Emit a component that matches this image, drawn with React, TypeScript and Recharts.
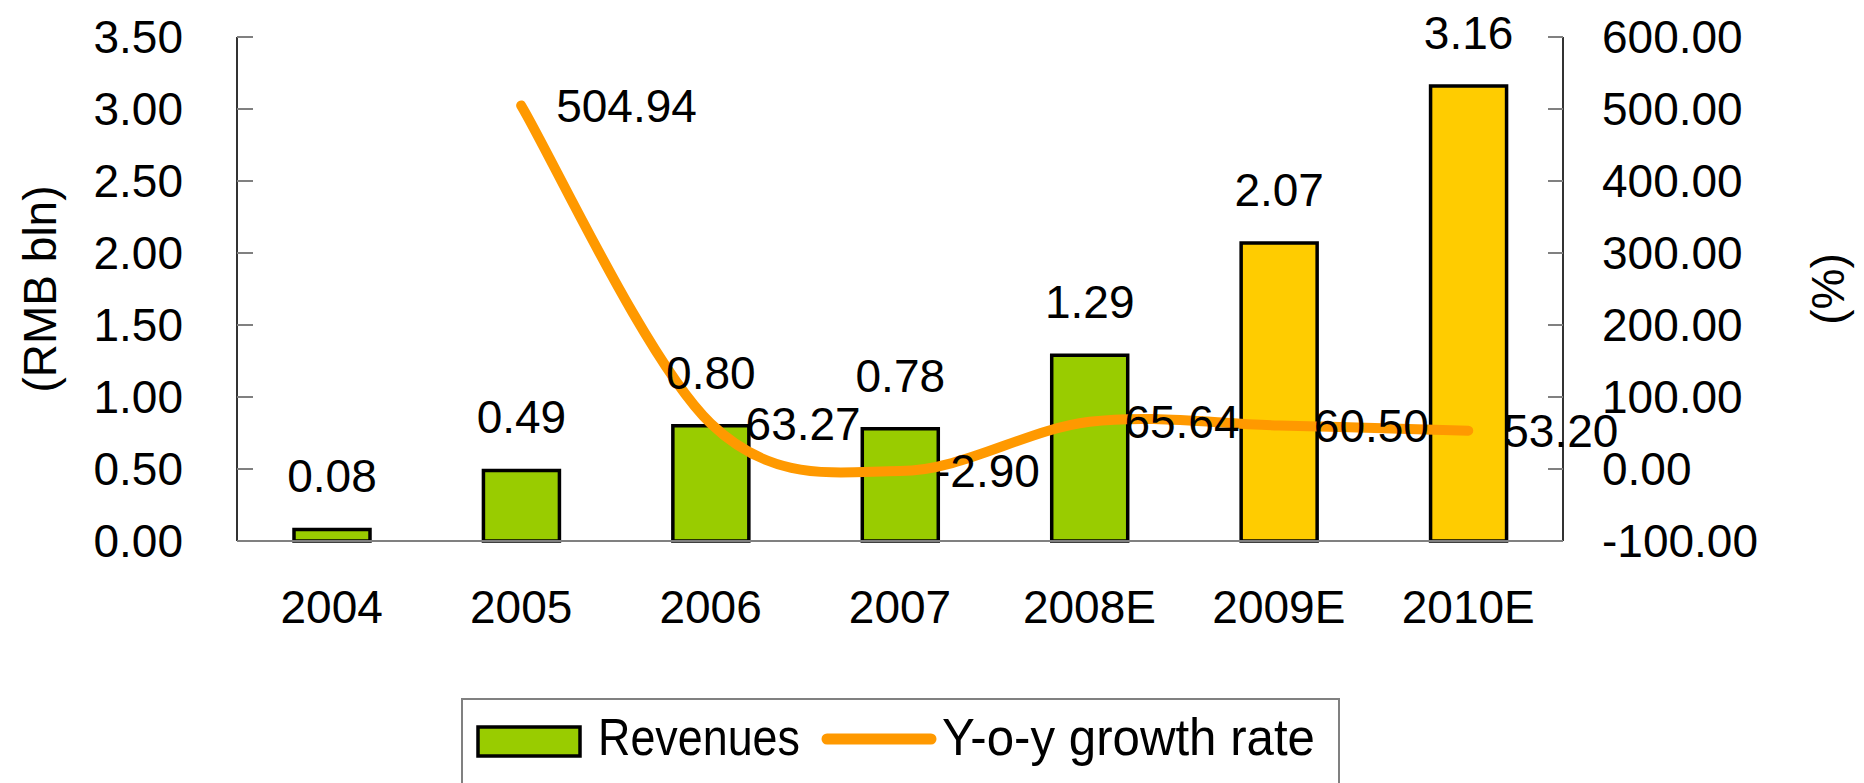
import React from "react";
import { ComposedChart, Bar, Line, XAxis, YAxis, Legend, LabelList, Cell } from "recharts";

const years = ["2004", "2005", "2006", "2007", "2008E", "2009E", "2010E"];
const revenues = [0.08, 0.49, 0.8, 0.78, 1.29, 2.07, 3.16];
const growth = [null, 504.94, 63.27, -2.9, 65.64, 60.5, 53.2];
const barColors = ["#99CC00", "#99CC00", "#99CC00", "#99CC00", "#99CC00", "#FFCC00", "#FFCC00"];
const leftTicks = [0, 0.5, 1, 1.5, 2, 2.5, 3, 3.5];
const rightTicks = [-100, 0, 100, 200, 300, 400, 500, 600];
const boundaryTicks = [1, 2, 3, 4, 5, 6];

const data = years.map((year, i) => ({ year, revenues: revenues[i], growth: growth[i], slot: i + 0.5 }));

const FONT = "'Liberation Sans', Arial, Helvetica, sans-serif";
const NARROW = "'Liberation Sans Narrow', 'Arial Narrow', 'Liberation Sans', Arial, sans-serif";

// Excel-like smoothed line (Catmull-Rom through the points)
const excelSmooth = (context: any) => {
  let pts: number[][] = [];
  return {
    areaStart() {},
    areaEnd() {},
    lineStart() {
      pts = [];
    },
    point(x: number, y: number) {
      pts.push([+x, +y]);
    },
    lineEnd() {
      const n = pts.length;
      if (!n) return;
      context.moveTo(pts[0][0], pts[0][1]);
      for (let i = 0; i < n - 1; i++) {
        const p0 = pts[i === 0 ? 0 : i - 1];
        const p1 = pts[i];
        const p2 = pts[i + 1];
        const p3 = pts[i + 2 < n ? i + 2 : n - 1];
        context.bezierCurveTo(
          p1[0] + (p2[0] - p0[0]) / 6,
          p1[1] + (p2[1] - p0[1]) / 6,
          p2[0] - (p3[0] - p1[0]) / 6,
          p2[1] - (p3[1] - p1[1]) / 6,
          p2[0],
          p2[1]
        );
      }
    },
  };
};

const fmt2 = (v: any) => (v === null || v === undefined ? "" : Number(v).toFixed(2));

const leftTitle = (props: any) => {
  const vb = props.viewBox;
  const cx = vb.x + 40;
  const cy = vb.y + vb.height / 2;
  return (
    <text x={cx} y={cy} transform={`rotate(-90 ${cx} ${cy})`} textAnchor="middle" dominantBaseline="central" fontSize={46} fill="#000">
      (RMB bln)
    </text>
  );
};

const rightTitle = (props: any) => {
  const vb = props.viewBox;
  const cx = vb.x + 265;
  const cy = vb.y + vb.height / 2;
  return (
    <text x={cx} y={cy} transform={`rotate(-90 ${cx} ${cy})`} textAnchor="middle" dominantBaseline="central" fontSize={46} fill="#000">
      (%)
    </text>
  );
};

const renderLegend = (props: any) => {
  const items = props.payload || [];
  const bar = items.find((p: any) => p.type === "rect") || items[0];
  const line = items.find((p: any) => p.type === "line") || items[1];
  return (
    <svg width={879} height={100} style={{ display: "block", fontFamily: NARROW }}>
      <rect x={1} y={1} width={877} height={140} fill="none" stroke="#808080" strokeWidth={2} />
      <rect x={17} y={29} width={102} height={29} fill="#99CC00" stroke="#000" strokeWidth={3.5} />
      <text x={137} y={57} fontSize={52} textLength={202} lengthAdjust="spacingAndGlyphs" fill="#000">
        {bar ? bar.value : ""}
      </text>
      <line x1={366} y1={41} x2={470} y2={41} stroke="#FF9900" strokeWidth={11} strokeLinecap="round" />
      <text x={481} y={57} fontSize={52} textLength={373} lengthAdjust="spacingAndGlyphs" fill="#000">
        {line ? line.value : ""}
      </text>
    </svg>
  );
};

export default function App() {
  return (
    <div style={{ position: "absolute", left: 0, top: 0, background: "#fff" }}>
      <ComposedChart
        width={1864}
        height={783}
        data={data}
        margin={{ top: 37, right: 0, left: 0, bottom: 21 }}
        style={{ fontFamily: FONT }}
      >
        <XAxis
          xAxisId="grid"
          type="number"
          dataKey="slot"
          domain={[0, 7]}
          ticks={boundaryTicks}
          tick={false}
          axisLine={false}
          tickSize={-15}
          tickLine={{ stroke: "#808080", strokeWidth: 2 }}
          height={1}
        />
        <XAxis
          dataKey="year"
          height={120}
          tickLine={false}
          tickSize={0}
          tickMargin={49}
          axisLine={{ stroke: "#808080", strokeWidth: 2 }}
          tick={{ fontSize: 46, fill: "#000" }}
        />
        <YAxis
          yAxisId="left"
          orientation="left"
          width={237}
          domain={[0, 3.5]}
          ticks={leftTicks}
          tickFormatter={fmt2}
          tickSize={-16}
          tickMargin={70}
          tickLine={{ stroke: "#808080", strokeWidth: 2 }}
          axisLine={{ stroke: "#333", strokeWidth: 2 }}
          tick={{ fontSize: 46, fill: "#000" }}
          label={{ content: leftTitle }}
        />
        <YAxis
          yAxisId="right"
          orientation="right"
          width={301}
          domain={[-100, 600]}
          ticks={rightTicks}
          tickFormatter={fmt2}
          tickSize={-15}
          tickMargin={54}
          tickLine={{ stroke: "#808080", strokeWidth: 2 }}
          axisLine={{ stroke: "#333", strokeWidth: 2 }}
          tick={{ fontSize: 46, fill: "#000" }}
          label={{ content: rightTitle }}
        />
        <Bar
          yAxisId="left"
          dataKey="revenues"
          name="Revenues"
          barSize={76}
          fill="#99CC00"
          stroke="#000"
          strokeWidth={3.5}
          legendType="rect"
          isAnimationActive={false}
        >
          {data.map((d, i) => (
            <Cell key={d.year} fill={barColors[i]} />
          ))}
          <LabelList dataKey="revenues" position="top" offset={37} formatter={fmt2} fontSize={46} fill="#000" />
        </Bar>
        <Line
          yAxisId="right"
          dataKey="growth"
          name="Y-o-y growth rate"
          type={excelSmooth as any}
          stroke="#FF9900"
          strokeWidth={10}
          strokeLinecap="round"
          strokeLinejoin="round"
          dot={false}
          activeDot={false}
          legendType="line"
          isAnimationActive={false}
        >
          <LabelList dataKey="growth" position="right" offset={35} formatter={fmt2} fontSize={46} fill="#000" />
        </Line>
        <Legend
          verticalAlign="bottom"
          content={renderLegend}
          wrapperStyle={{ position: "absolute", left: 461, top: 698, width: 879, height: 100 }}
        />
      </ComposedChart>
    </div>
  );
}
